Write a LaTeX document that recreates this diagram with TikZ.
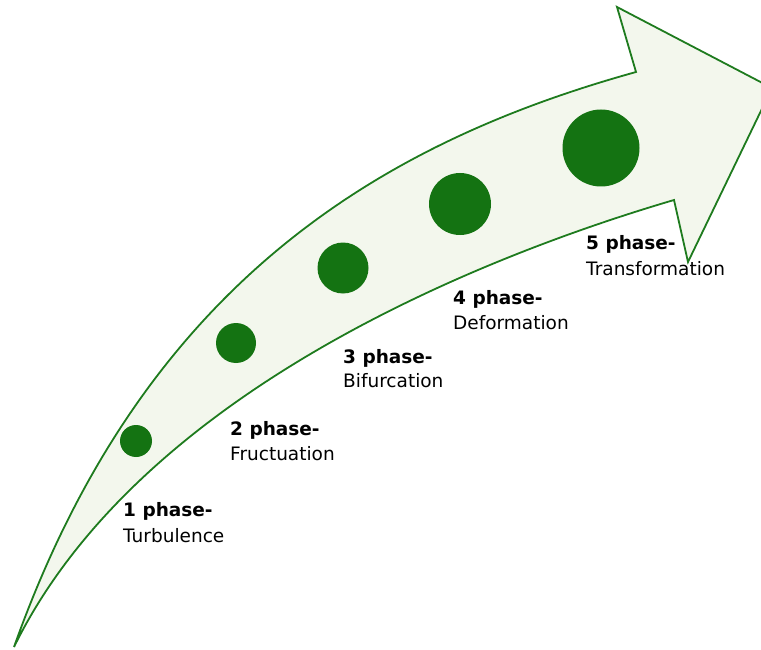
\documentclass[tikz,border=0pt]{standalone}
\usepackage{fontspec}
\setmainfont{DejaVu Sans}
\definecolor{edgegreen}{HTML}{1E7B1E}
\definecolor{dotgreen}{HTML}{147312}
\definecolor{bodyfill}{HTML}{F3F7ED}
\begin{document}
\begin{tikzpicture}[x=1pt,y=-1pt,
  arrowbody/.style={draw=edgegreen, fill=bodyfill, line width=1.8pt},
  dot/.style={circle, fill=dotgreen, draw=none, inner sep=0pt},
  phasehead/.style={anchor=base west, inner sep=0pt, font=\fontsize{18.5}{22}\selectfont\bfseries},
  phasename/.style={anchor=base west, inner sep=0pt, font=\fontsize{18.5}{22}\selectfont}]
\useasboundingbox (0,0) rectangle (761,650);
\clip (0,0) rectangle (761,650);
% arrow outline points
\coordinate (s) at (14,647);
\coordinate (ob) at (636,72);
\coordinate (ht) at (617,7);
\coordinate (tip) at (772,88);
\coordinate (hb) at (688,262);
\coordinate (ib) at (674,200);
\filldraw[arrowbody] (s) .. controls (144,281) and (384,142) .. (ob) -- (ht) -- (tip) -- (hb) -- (ib)
  .. controls (487,255) and (140,390) .. (s) -- cycle;
% phase dots
\node[dot, minimum size=32pt] (c1) at (136,441) {};
\node[dot, minimum size=40pt] (c2) at (236,343) {};
\node[dot, minimum size=51pt] (c3) at (343,268) {};
\node[dot, minimum size=62pt] (c4) at (460,204) {};
\node[dot, minimum size=77pt] (c5) at (601,148) {};
% labels
\node[phasehead] (h1) at (123,516) {1 phase-};
\node[phasename] (n1) at (123,542) {Turbulence};
\node[phasehead] (h2) at (230,435) {2 phase-};
\node[phasename] (n2) at (230,460) {Fructuation};
\node[phasehead] (h3) at (343,363) {3 phase-};
\node[phasename] (n3) at (343,387) {Bifurcation};
\node[phasehead] (h4) at (453,304) {4 phase-};
\node[phasename] (n4) at (453,329) {Deformation};
\node[phasehead] (h5) at (586,250) {5 phase-};
\node[phasename] (n5) at (586,275) {Transformation};
\end{tikzpicture}
\end{document}
